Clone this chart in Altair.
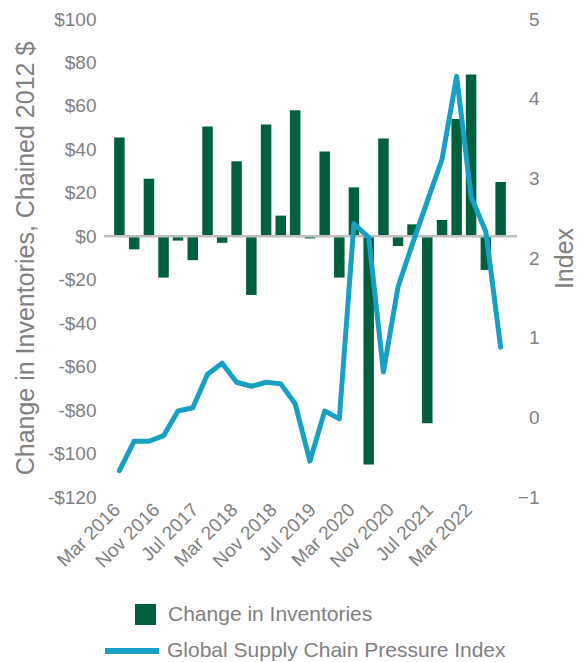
import altair as alt
import pandas as pd

# Quarterly observations (quarter-end months)
quarters = [
    "2016-03-01", "2016-06-01", "2016-09-01", "2016-12-01",
    "2017-03-01", "2017-06-01", "2017-09-01", "2017-12-01",
    "2018-03-01", "2018-06-01", "2018-09-01", "2018-12-01",
    "2019-03-01", "2019-06-01", "2019-09-01", "2019-12-01",
    "2020-03-01", "2020-06-01", "2020-09-01", "2020-12-01",
    "2021-03-01", "2021-06-01", "2021-09-01", "2021-12-01",
    "2022-03-01", "2022-06-01", "2022-09-01",
]
inventories = [45.5, -6, 26.5, -19, -2, -11, 50.5, -3, 34.5, -27,
               51.5, 9.5, 58, -1, 39, -19, 22.5, -105, 45, -4.5,
               5.5, -86, 7.5, 54, 74.5, -15.5, 25]
gscpi = [-0.67, -0.30, -0.30, -0.23, 0.08, 0.12, 0.54, 0.68, 0.44, 0.39,
         0.44, 0.42, 0.17, -0.55, 0.08, -0.02, 2.43, 2.26, 0.57, 1.64,
         2.18, 2.71, 3.24, 4.28, 2.77, 2.33, 0.88]
tick_labels = ["Mar 2016", "Nov 2016", "Jul 2017", "Mar 2018", "Nov 2018",
               "Jul 2019", "Mar 2020", "Nov 2020", "Jul 2021", "Mar 2022"]
left_ticks = [-120, -100, -80, -60, -40, -20, 0, 20, 40, 60, 80, 100]
right_ticks = [-1, 0, 1, 2, 3, 4, 5]
bar_name = "Change in Inventories"
line_name = "Global Supply Chain Pressure Index"

GREEN = "#00603d"
BLUE = "#17a0c4"
GRAY = "#808080"
FONT = "Liberation Sans"

df = pd.DataFrame({
    "date": quarters,
    "inventories": inventories,
    "gscpi": gscpi,
    "bar_series": bar_name,
    "line_series": line_name,
})


def dt(ts):
    return alt.DateTime(year=ts.year, month=ts.month, date=ts.day, utc=True)


tick_dates = [dt(pd.to_datetime(s, format="%b %Y")) for s in tick_labels]
x_scale = alt.Scale(type="utc", nice=False, padding=0,
                    domain=[dt(pd.Timestamp("2015-11-26")), dt(pd.Timestamp("2022-12-12"))])

x_enc = alt.X("date:T", scale=x_scale, title=None,
              axis=alt.Axis(values=tick_dates, format="%b %Y", labelAngle=-45,
                            labelFontSize=19, labelColor=GRAY, labelFont=FONT,
                            labelPadding=3, labelOffset=-9, ticks=False, domain=False,
                            grid=False, labelOverlap=False))

left_scale = alt.Scale(domain=[-120, 100], nice=False)

bars = alt.Chart(df).mark_bar(size=10.5).encode(
    x=x_enc,
    y=alt.Y("inventories:Q", scale=left_scale, stack=None,
            title="Change in Inventories, Chained 2012 $",
            axis=alt.Axis(values=left_ticks, orient="left",
                          labelExpr="datum.value < 0 ? '-$' + abs(datum.value) : '$' + datum.value",
                          labelFontSize=19, labelColor=GRAY, labelFont=FONT,
                          labelPadding=8, ticks=False, domain=False, grid=False,
                          titleFontSize=25, titleColor=GRAY, titleFont=FONT,
                          titleFontWeight="normal", titlePadding=9)),
    fill=alt.Fill("bar_series:N",
                  scale=alt.Scale(domain=[bar_name], range=[GREEN]),
                  legend=alt.Legend(orient="none", legendX=31, legendY=585,
                                    title=None, symbolType="square", symbolSize=441,
                                    symbolStrokeWidth=0, labelFontSize=21,
                                    labelColor=GRAY, labelFont=FONT, labelLimit=600,
                                    labelOffset=12, padding=0)),
)

zero = alt.Chart(pd.DataFrame({"zero": [0]})).mark_rule(
    color="#bfbfbf", strokeWidth=2.5
).encode(y=alt.Y("zero:Q", scale=left_scale, axis=None))

line = alt.Chart(df).mark_line(strokeWidth=5, strokeCap="round", strokeJoin="round").encode(
    x=x_enc,
    y=alt.Y("gscpi:Q", scale=alt.Scale(domain=[-1, 5], nice=False), title="Index",
            axis=alt.Axis(values=right_ticks, orient="right", format="d",
                          labelFontSize=19, labelColor=GRAY, labelFont=FONT,
                          labelAlign="right", labelPadding=22,
                          ticks=False, domain=False, grid=False,
                          titleFontSize=25, titleColor=GRAY, titleFont=FONT,
                          titleFontWeight="normal", titlePadding=13,
                          titleAngle=270, titleBaseline="top")),
    stroke=alt.Stroke("line_series:N",
                      scale=alt.Scale(domain=[line_name], range=[BLUE]),
                      legend=alt.Legend(orient="none", legendX=-2, legendY=602,
                                        title=None, symbolType="stroke", symbolSize=2916,
                                        symbolStrokeWidth=6, labelFontSize=21,
                                        labelColor=GRAY, labelFont=FONT, labelLimit=600,
                                        labelOffset=5, padding=0)),
)

chart = alt.layer(bars, zero, line).resolve_scale(
    y="independent", fill="independent", stroke="independent"
).properties(
    width=413, height=478,
    padding={"left": 5, "top": 2, "right": 0, "bottom": 0},
).configure_view(stroke=None)

chart.save("out.html", embed_options={"renderer": "svg", "actions": False})
